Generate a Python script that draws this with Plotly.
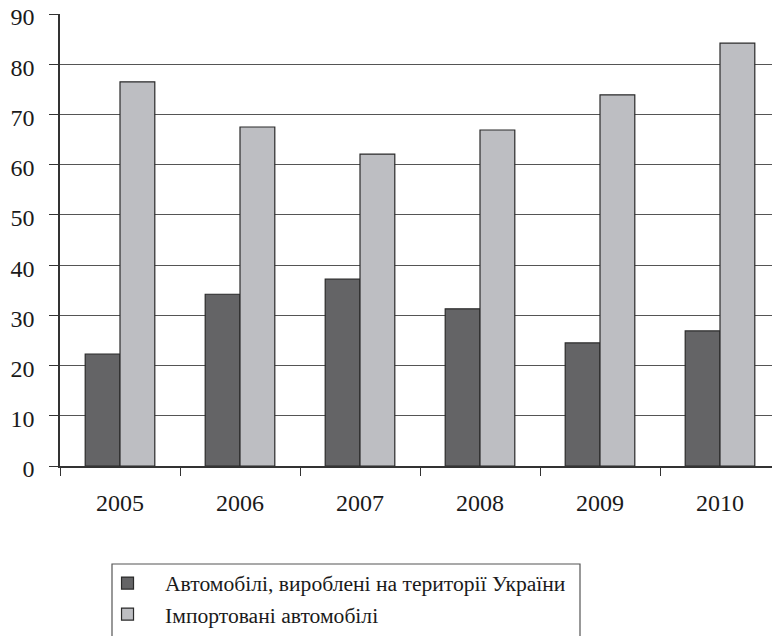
import plotly.graph_objects as go

years = ["2005", "2006", "2007", "2008", "2009", "2010"]
domestic = [22.3, 34.2, 37.2, 31.3, 24.5, 26.9]
imported = [76.5, 67.5, 62.1, 66.9, 73.9, 84.2]
names = ["Автомобілі, вироблені на території України", "Імпортовані автомобілі"]
y_ticks = [0, 10, 20, 30, 40, 50, 60, 70, 80, 90]

FONT = "Liberation Serif"

fig = go.Figure()
fig.add_bar(x=years, y=domestic, name=names[0],
            marker=dict(color="#646466", line=dict(color="#2a2a2a", width=1.2)))
fig.add_bar(x=years, y=imported, name=names[1],
            marker=dict(color="#bdbec2", line=dict(color="#2a2a2a", width=1.2)))

# page is offset by the 8px body margin; plot area spans page x 60..780, y 14..466
fig.update_layout(
    width=772, height=628,
    margin=dict(l=52, r=0, t=6, b=170, autoexpand=False),
    paper_bgcolor="white", plot_bgcolor="white",
    barmode="group", bargap=0.42, bargroupgap=0,
    font=dict(family=FONT, size=24, color="#1a1a1a"),
    showlegend=True,
    legend=dict(x=0.0417, y=-0.2135, xanchor="left", yanchor="top",
                orientation="v", borderwidth=0, bgcolor="rgba(0,0,0,0)",
                font=dict(family=FONT, size=21.6, color="#1a1a1a"),
                tracegroupgap=0, itemwidth=65),
    xaxis=dict(type="category", range=[-0.5, 5.5], showgrid=False, automargin=False,
               showline=True, linecolor="#333", linewidth=1.5,
               tickfont=dict(family=FONT, size=24),
               ticks="outside", tickson="boundaries", ticklen=8, tickcolor="#333",
               ticklabelstandoff=14, zeroline=False, ticklabeloverflow="allow"),
    yaxis=dict(range=[0, 90], tickvals=y_ticks, showgrid=True, gridcolor="#555",
               gridwidth=1.4, showline=True, linecolor="#333", linewidth=1.5,
               automargin=False, tickfont=dict(family=FONT, size=24),
               ticks="outside", ticklen=9, tickcolor="#333",
               ticklabelstandoff=10, ticklabelshift=3,
               zeroline=False, ticklabeloverflow="allow"),
)
fig.add_shape(type="rect", xref="paper", yref="paper",
              x0=(112 - 60) / 720, x1=(580 - 60) / 720,
              y0=(466 - 564) / 452, y1=(466 - 700) / 452,
              line=dict(color="#555", width=1.2), fillcolor="rgba(0,0,0,0)")
fig.write_html("out.html")
